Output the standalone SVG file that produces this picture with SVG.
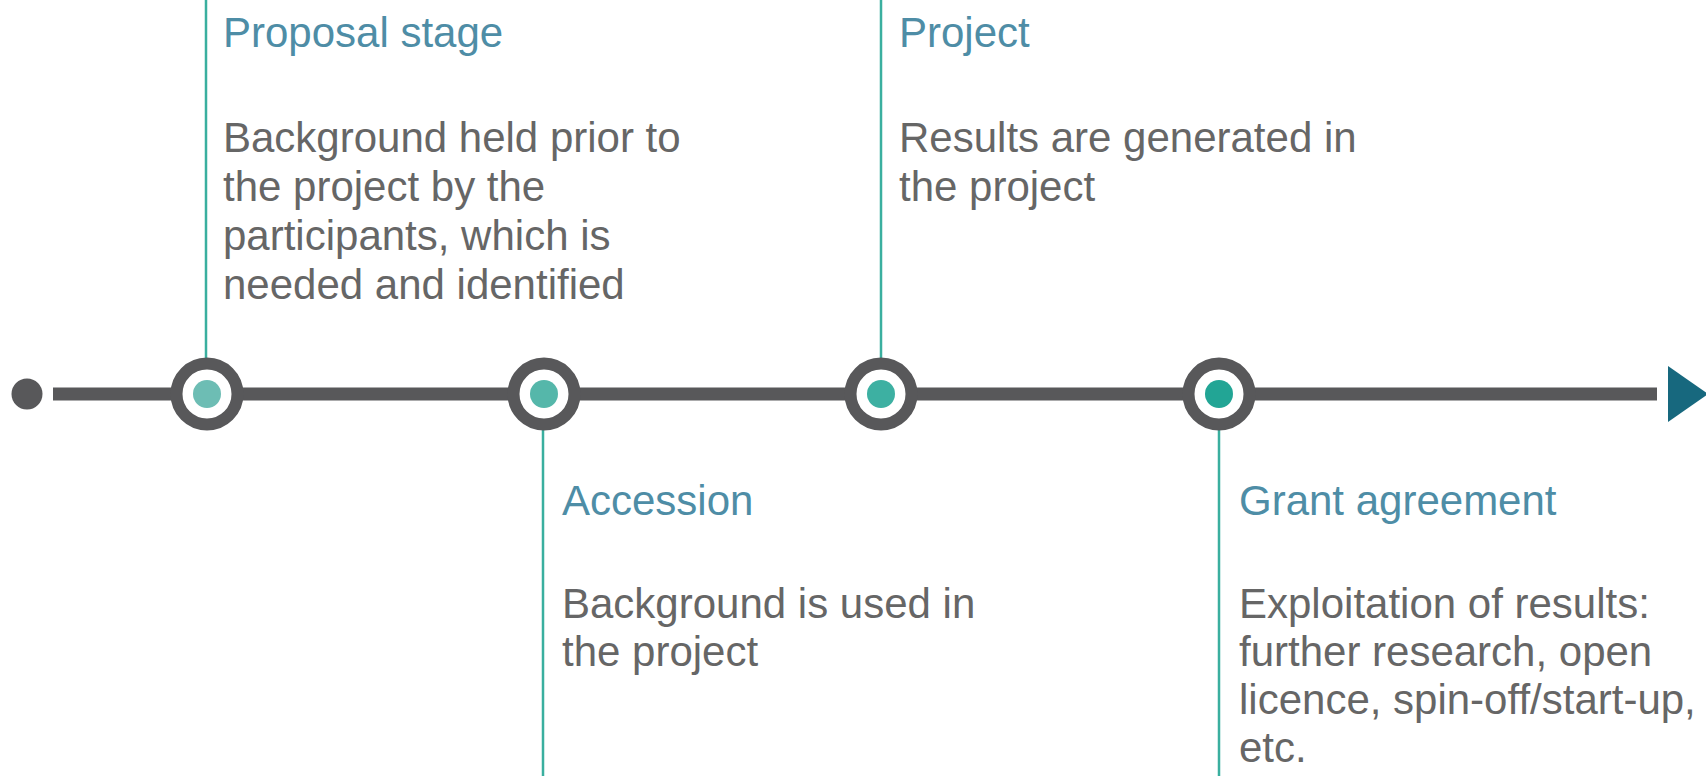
<svg xmlns="http://www.w3.org/2000/svg" width="1706" height="776" viewBox="0 0 1706 776">
  <style>
    .title { font-family: "Liberation Sans", Arial, sans-serif; font-size: 42px; fill: #4e8da6; }
    .body { font-family: "Liberation Sans", Arial, sans-serif; font-size: 42px; fill: #666666; }
    .stem { stroke: #3aaf9f; stroke-width: 2.5; fill: none; }
    .ring { fill: #ffffff; stroke: #58585a; stroke-width: 12; }
  </style>
  <rect width="1706" height="776" fill="#ffffff"/>

  <!-- timeline axis and the stems that tie each milestone to its caption -->
  <g id="connectors">
    <circle cx="27" cy="394" r="15.5" fill="#58585a"/>
    <line x1="53" y1="394" x2="1657" y2="394" stroke="#58585a" stroke-width="13"/>
    <polygon points="1668,366 1668,422 1708,394" fill="#17687e"/>
    <line class="stem" x1="206" y1="0" x2="206" y2="360"/>
    <line class="stem" x1="543" y1="428" x2="543" y2="776"/>
    <line class="stem" x1="881" y1="0" x2="881" y2="360"/>
    <line class="stem" x1="1219" y1="428" x2="1219" y2="776"/>
  </g>

  <g id="node-proposal">
    <circle class="ring" cx="207" cy="394" r="30.5"/>
    <circle cx="207" cy="394" r="14" fill="#6dbdb4"/>
    <text class="title" x="223" y="47">Proposal stage</text>
    <text class="body" x="223" y="152">Background held prior to</text>
    <text class="body" x="223" y="201">the project by the</text>
    <text class="body" x="223" y="250">participants, which is</text>
    <text class="body" x="223" y="299">needed and identified</text>
  </g>

  <g id="node-accession">
    <circle class="ring" cx="544" cy="394" r="30.5"/>
    <circle cx="544" cy="394" r="14" fill="#55b7aa"/>
    <text class="title" x="562" y="515">Accession</text>
    <text class="body" x="562" y="618">Background is used in</text>
    <text class="body" x="562" y="666">the project</text>
  </g>

  <g id="node-project">
    <circle class="ring" cx="881" cy="394" r="30.5"/>
    <circle cx="881" cy="394" r="14" fill="#3db0a2"/>
    <text class="title" x="899" y="47">Project</text>
    <text class="body" x="899" y="152">Results are generated in</text>
    <text class="body" x="899" y="201">the project</text>
  </g>

  <g id="node-grant">
    <circle class="ring" cx="1219" cy="394" r="30.5"/>
    <circle cx="1219" cy="394" r="14" fill="#22a595"/>
    <text class="title" x="1239" y="515">Grant agreement</text>
    <text class="body" x="1239" y="618">Exploitation of results:</text>
    <text class="body" x="1239" y="666">further research, open</text>
    <text class="body" x="1239" y="714">licence, spin-off/start-up,</text>
    <text class="body" x="1239" y="762">etc.</text>
  </g>
</svg>
